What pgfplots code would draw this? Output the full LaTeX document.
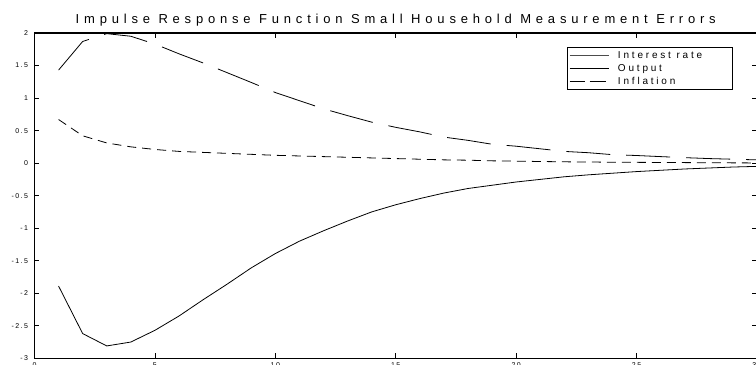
\documentclass[border=0pt]{standalone}
\usepackage{pgfplots}
\pgfplotsset{compat=1.18}
\usepackage{fontspec}
\setmainfont{Liberation Sans}
\newfontfamily\titlefont[LetterSpace=37]{Liberation Sans}
\newfontfamily\legfont[LetterSpace=28]{Liberation Sans}
\newfontfamily\tickfont[LetterSpace=20]{Liberation Sans}

\pgfplotstableread{
x y
1 1.43
2 1.87
3 1.99
4 1.95
5 1.83
6 1.68
7 1.54
8 1.39
9 1.24
10 1.085
11 0.96
12 0.835
13 0.73
14 0.63
15 0.55
16 0.48
17 0.40
18 0.35
19 0.29
20 0.26
21 0.22
22 0.18
23 0.16
24 0.13
25 0.117
26 0.10
27 0.084
28 0.07
29 0.06
30 0.05
}\interest

\pgfplotstableread{
x y
1 -1.89
2 -2.62
3 -2.81
4 -2.75
5 -2.57
6 -2.35
7 -2.10
8 -1.86
9 -1.61
10 -1.39
11 -1.20
12 -1.04
13 -0.89
14 -0.75
15 -0.64
16 -0.545
17 -0.46
18 -0.39
19 -0.34
20 -0.29
21 -0.25
22 -0.21
23 -0.18
24 -0.155
25 -0.13
26 -0.11
27 -0.09
28 -0.075
29 -0.06
30 -0.05
}\output

\pgfplotstableread{
x y
1 0.67
2 0.42
3 0.31
4 0.25
5 0.21
6 0.18
7 0.165
8 0.15
9 0.135
10 0.12
11 0.11
12 0.10
13 0.09
14 0.08
15 0.07
16 0.06
17 0.05
18 0.045
19 0.035
20 0.03
21 0.025
22 0.02
23 0.017
24 0.014
25 0.012
26 0.01
27 0.008
28 0.006
29 0.004
30 0.003
}\inflation

\begin{document}
\begin{tikzpicture}
\begin{axis}[
  scale only axis, width=722.5bp, height=325.3bp,
  xmin=0, xmax=30, ymin=-3, ymax=2,
  xtick={0,5,10,15,20,25,30},
  ytick={-3,-2.5,-2,-1.5,-1,-0.5,0,0.5,1,1.5,2},
  yticklabels={-3,-2.5,-2,-1.5,-1,-0.5,0,0.5,1,1.5,2},
  xticklabels={0,5,10,15,20,25,30},
  tick align=inside, major tick length=5bp,
  axis line style={line width=1.1bp},
  every tick/.style={black, line width=0.8bp},
  tick label style={font=\tickfont\fontsize{7bp}{8bp}\selectfont},
  yticklabel style={xshift=-3bp},
  xticklabel style={yshift=-1bp},
  title={Impulse Response Function Small Household Measurement Errors},
  title style={font=\titlefont\fontsize{13bp}{15bp}\selectfont, yshift=-3bp},
  legend style={at={(axis description cs:0.7366,0.958)}, anchor=north west,
    draw=black, line width=1bp, font=\legfont\fontsize{10bp}{11bp}\selectfont,
    inner sep=2bp, row sep=0.6bp, column sep=7bp},
  legend cell align=left,
  legend image code/.code={\path (-6bp,0bp) -- (33bp,0bp); \draw[#1] (0bp,0bp) -- (33bp,0bp);},
]
\addplot[black, line width=0.8bp, dash pattern=on 44bp off 16bp, forget plot] table[x=x,y=y]{\interest};
\addplot[black, line width=0.8bp, forget plot] table[x=x,y=y]{\output};
\addplot[black, line width=0.8bp, dash pattern=on 9bp off 6bp, forget plot] table[x=x,y=y]{\inflation};
\addlegendimage{black!70, line width=0.8bp}
\addlegendentry{Interest rate\hbox to 26bp{\hfil}}
\addlegendimage{black, line width=0.8bp}
\addlegendentry{Output}
\addlegendimage{black, line width=0.8bp, dash pattern=on 8bp off 6bp on 1bp off 6bp}
\addlegendentry{Inflation}
\end{axis}
\pgfresetboundingbox
\path[use as bounding box] ([shift={(-34.5bp,-6.7bp)}]current axis.south west) rectangle ([shift={(-1bp,33bp)}]current axis.north east);
\end{tikzpicture}
\end{document}
